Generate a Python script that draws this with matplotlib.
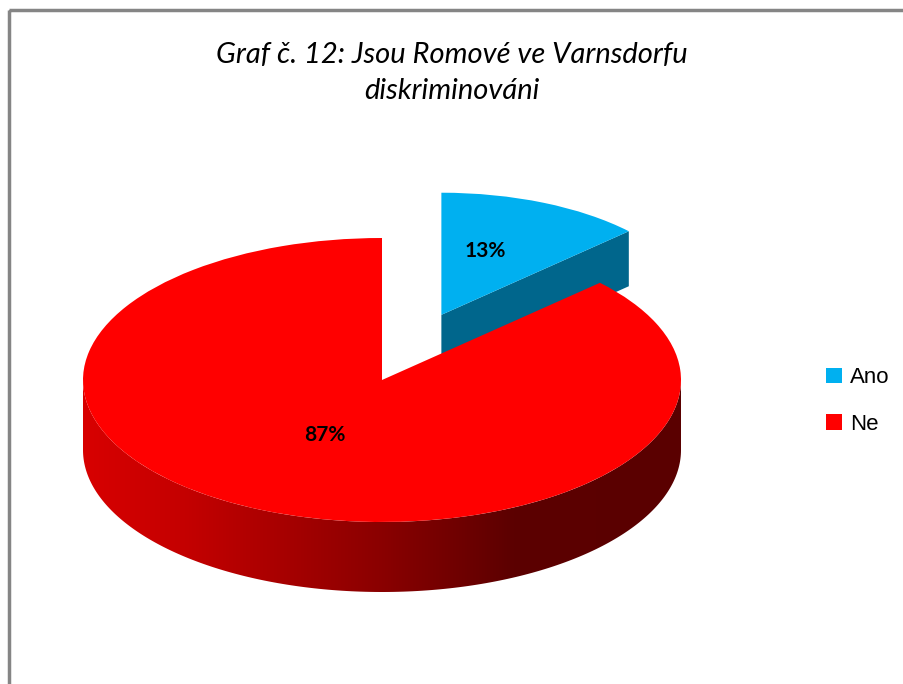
import numpy as np
import matplotlib
matplotlib.use("Agg")
import matplotlib.pyplot as plt
from matplotlib.patches import Polygon, Rectangle
from matplotlib.colors import LinearSegmentedColormap

title = "Graf č. 12: Jsou Romové ve Varnsdorfu\ndiskriminováni"
categories = ["Ano", "Ne"]
values = [13, 87]
labels_pct = ["13%", "87%"]
top_colors = ["#00B0F0", "#FF0000"]
cut_colors = ["#00668C", "#7A0000"]

W, H = 904, 684
fig = plt.figure(figsize=(W / 100, H / 100), dpi=100)
fig.patch.set_facecolor("white")

# frame
frame = fig.add_axes([0, 0, 1, 1])
frame.set_xlim(0, W); frame.set_ylim(H, 0); frame.axis("off")
frame.add_patch(Rectangle((9, 10), W + 20, H + 20, fill=False, edgecolor="#858585", linewidth=2.5))

# pie axes: ellipse center (382,380) px, rx 299, ry 142
cx, cy, rx, ry = 382, 380, 299, 142
ax = fig.add_axes([0, 0, 1, 1])

explode = [0.5, 0]
wedges, _ = ax.pie(values, colors=top_colors, startangle=90, counterclock=False,
                   explode=explode, radius=1, center=(0, 0), wedgeprops=dict(linewidth=0))
blue, red = wedges
blue.set_radius(0.86)
for w in wedges:
    w.set_visible(False)

depth_red = 70 / ry
depth_blue = 55 / ry

# blue cut face (at smaller angle)
bcx, bcy = blue.center
br = blue.r
t = np.deg2rad(blue.theta1)
p0 = (bcx, bcy)
p1 = (bcx + br * np.cos(t), bcy + br * np.sin(t))
face = Polygon([p0, p1, (p1[0], p1[1] - depth_blue), (p0[0], p0[1] - depth_blue)],
               closed=True, facecolor=cut_colors[0], edgecolor="none", zorder=1)
ax.add_patch(face)
blue.set_visible(True); blue.set_zorder(2)

# red outer side (front half)
rcx, rcy = red.center
rr = red.r
ts = np.linspace(np.pi, 2 * np.pi, 200)
top_arc = np.column_stack([rcx + rr * np.cos(ts), rcy + rr * np.sin(ts)])
bot_arc = np.column_stack([rcx + rr * np.cos(ts[::-1]), rcy + rr * np.sin(ts[::-1]) - depth_red])
side = Polygon(np.vstack([top_arc, bot_arc]), closed=True, facecolor="none", edgecolor="none", zorder=3)
ax.add_patch(side)
cmap = LinearSegmentedColormap.from_list("redside", [(0, "#D80000"), (0.17, "#C40000"), (0.5, "#8A0000"), (0.72, "#5C0000"), (1, "#5A0000")])
grad = np.linspace(0, 1, 256).reshape(1, -1)
im = ax.imshow(grad, cmap=cmap, extent=(rcx - rr, rcx + rr, rcy - rr - depth_red, rcy + 0.01),
               aspect="auto", zorder=3, interpolation="bilinear")
im.set_clip_path(side)
red.set_visible(True); red.set_zorder(4)
ax.set_xlim(-cx / rx, (W - cx) / rx)
ax.set_ylim((cy - H) / ry, cy / ry)
ax.axis("off")
ax.set_aspect("auto")

# percent labels
mid_b = np.deg2rad((blue.theta1 + blue.theta2) / 2)
ax.text(bcx + 0.43 * br * np.cos(mid_b), bcy + 0.57 * br * np.sin(mid_b), labels_pct[0],
        ha="center", va="center", fontsize=15, fontweight="bold", family="Lato", zorder=6)
ax.text(-0.19, -0.39, labels_pct[1], ha="center", va="center", fontsize=15, fontweight="bold",
        family="Lato", zorder=6)

# title
fig.text(452 / W, 1 - 73 / H, title, ha="center", va="center", fontsize=21, style="italic",
         family="Lato", linespacing=1.45)

# legend
handles = [Rectangle((0, 0), 1, 1, facecolor=c, edgecolor="none") for c in top_colors]
fig.legend(handles, categories, loc="center left", bbox_to_anchor=(826 / W, 1 - 401 / H), frameon=False,
           prop={"family": "Liberation Sans", "size": 16}, handlelength=0.72, handleheight=0.72,
           handletextpad=0.35, labelspacing=1.15, borderpad=0, borderaxespad=0)

fig.savefig("out.png", dpi=100, facecolor="white")
